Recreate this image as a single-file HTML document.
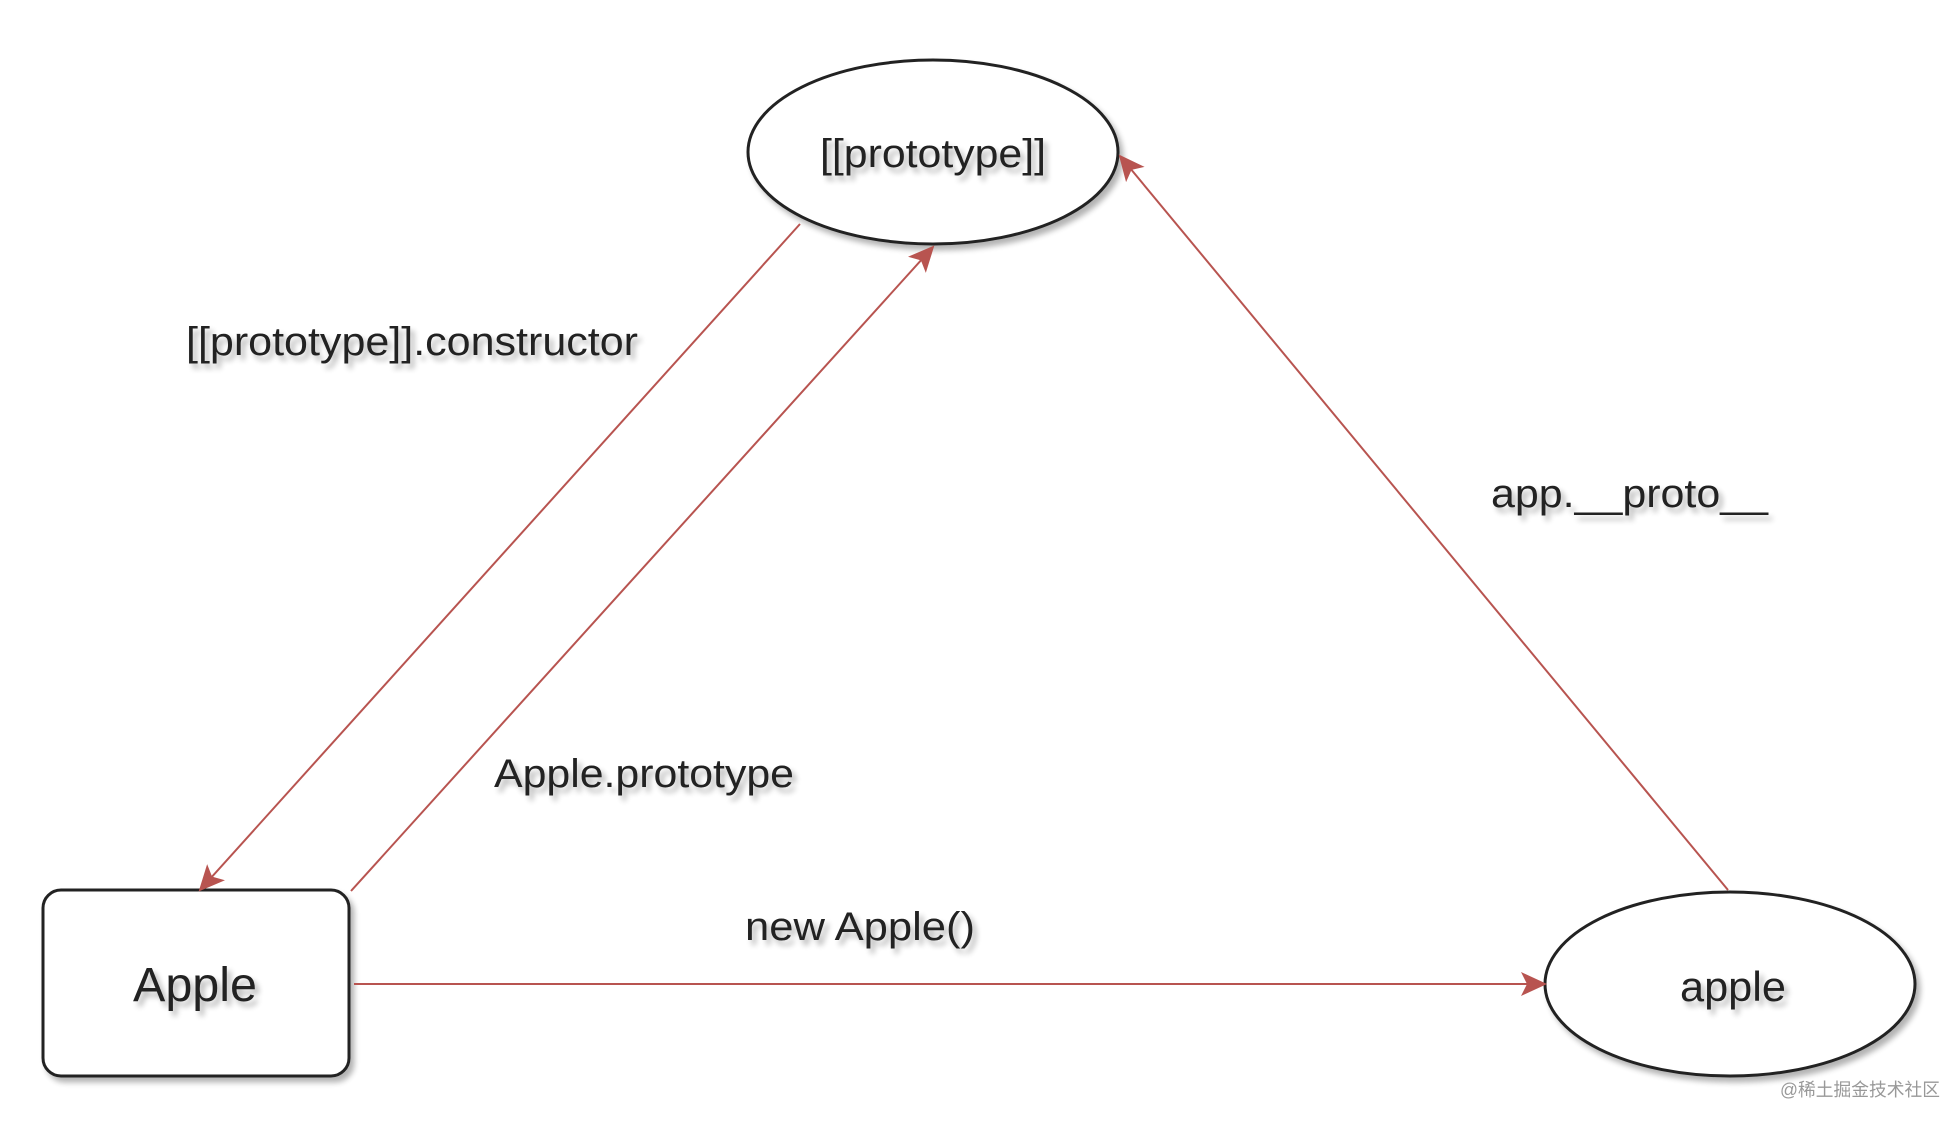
<!DOCTYPE html>
<html><head><meta charset="utf-8"><style>
html,body{margin:0;padding:0;background:#fff;}
svg{display:block;}
text{font-family:"Liberation Sans","Noto Sans CJK SC",sans-serif;fill:#222;}
</style></head><body>
<svg width="1960" height="1124" viewBox="0 0 1960 1124" xmlns="http://www.w3.org/2000/svg">
<defs>
<filter id="sh" x="-20%" y="-20%" width="140%" height="140%">
<feGaussianBlur in="SourceAlpha" stdDeviation="3"/>
<feOffset dx="4" dy="5" result="b"/>
<feComponentTransfer><feFuncA type="linear" slope="0.3"/></feComponentTransfer>
<feMerge><feMergeNode/><feMergeNode in="SourceGraphic"/></feMerge>
</filter>
<marker id="arb" markerWidth="28" markerHeight="28" refX="24" refY="12" orient="auto" markerUnits="userSpaceOnUse" viewBox="0 0 28 24">
<path d="M0,0 L26,12 L0,24 L6,12 Z" fill="#b85450"/>
</marker>
</defs>
<g filter="url(#sh)">
<ellipse cx="933" cy="152" rx="185" ry="92" fill="#fff" stroke="#222" stroke-width="3"/>
<rect x="43" y="890" width="306" height="186" rx="18" fill="#fff" stroke="#222" stroke-width="3"/>
<ellipse cx="1730" cy="984" rx="185" ry="92" fill="#fff" stroke="#222" stroke-width="3"/>
</g>
<g stroke="#b85450" stroke-width="2" fill="none">
<line x1="800" y1="224" x2="200" y2="890" marker-end="url(#arb)"/>
<line x1="351" y1="891" x2="933" y2="247" marker-end="url(#arb)"/>
<line x1="1728" y1="890" x2="1120" y2="156" marker-end="url(#arb)"/>
<line x1="354" y1="984" x2="1545" y2="984" marker-end="url(#arb)"/>
</g>
<g filter="url(#sh)">
<text x="933" y="167" font-size="40" text-anchor="middle" textLength="226" lengthAdjust="spacingAndGlyphs">[[prototype]]</text>
<text x="186" y="355" font-size="40" textLength="452" lengthAdjust="spacingAndGlyphs">[[prototype]].constructor</text>
<text x="1491" y="507" font-size="40" textLength="277" lengthAdjust="spacingAndGlyphs">app.__proto__</text>
<text x="494" y="787" font-size="40" textLength="300" lengthAdjust="spacingAndGlyphs">Apple.prototype</text>
<text x="745" y="940" font-size="40" textLength="230" lengthAdjust="spacingAndGlyphs">new Apple()</text>
<text x="195" y="1001" font-size="48" text-anchor="middle" textLength="124" lengthAdjust="spacingAndGlyphs">Apple</text>
<text x="1733" y="1001" font-size="42" text-anchor="middle" textLength="106" lengthAdjust="spacingAndGlyphs">apple</text>
</g>
<text x="1780" y="1096" font-size="18" style="fill:#999" textLength="160" lengthAdjust="spacingAndGlyphs">@稀土掘金技术社区</text>
</svg>
</body></html>
